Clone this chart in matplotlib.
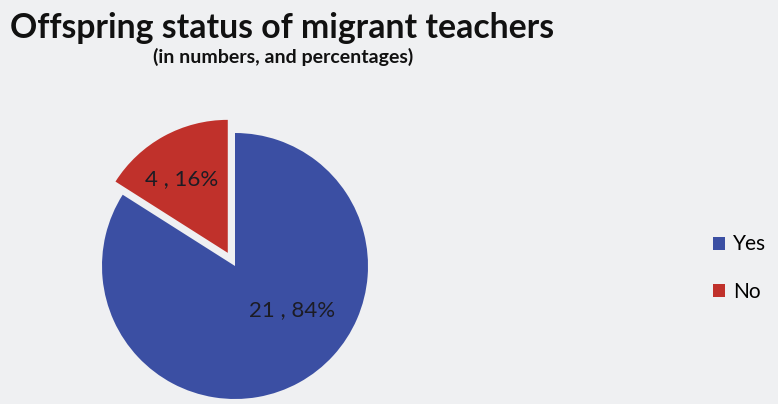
import matplotlib.pyplot as plt
from matplotlib.patches import Patch

categories = ['Yes', 'No']
counts = [21, 4]
colors = ['#3b4fa3', '#c0312b']

plt.rcParams['font.family'] = ['Lato', 'DejaVu Sans']

fig = plt.figure(figsize=(7.78, 4.04), dpi=100)
fig.patch.set_facecolor('#eff0f2')
ax = fig.add_axes([0, 0, 1, 1])
ax.set_facecolor('#eff0f2')

total = sum(counts)
# axes in pixel-like units, so explode is an absolute offset here
wedges, _ = ax.pie(counts, colors=colors, startangle=90, counterclock=False,
                   center=(235, 138), radius=133, explode=[0, 15],
                   wedgeprops=dict(linewidth=0))
ax.set_xlim(0, 778)
ax.set_ylim(0, 404)
ax.set_aspect('equal')
ax.axis('off')

# value labels, "n , pct%"
label_pos = [(292, 94), (182, 225)]
for n, (x, y) in zip(counts, label_pos):
    ax.text(x, y, f'{n} , {round(100 * n / total)}%', ha='center', va='center',
            fontsize=16, color='#1c1c24')

fig.text(10, 366, 'Offspring status of migrant teachers', transform=None,
         fontsize=24.3, fontweight='bold', color='#111111', va='baseline', ha='left')
fig.text(283, 341, '(in numbers, and percentages)', transform=None,
         fontsize=14, fontweight='bold', color='#111111', va='baseline', ha='center')

handles = [Patch(facecolor=c, edgecolor='none') for c in colors]
fig.legend(handles, categories, loc='center left',
           bbox_to_anchor=(713 / 778, 1 - 268 / 404),
           frameon=False, fontsize=15, handlelength=0.58, handleheight=0.58,
           handletextpad=0.38, labelspacing=1.3, borderpad=0, borderaxespad=0)

fig.savefig('out.png', dpi=100, facecolor=fig.get_facecolor())
